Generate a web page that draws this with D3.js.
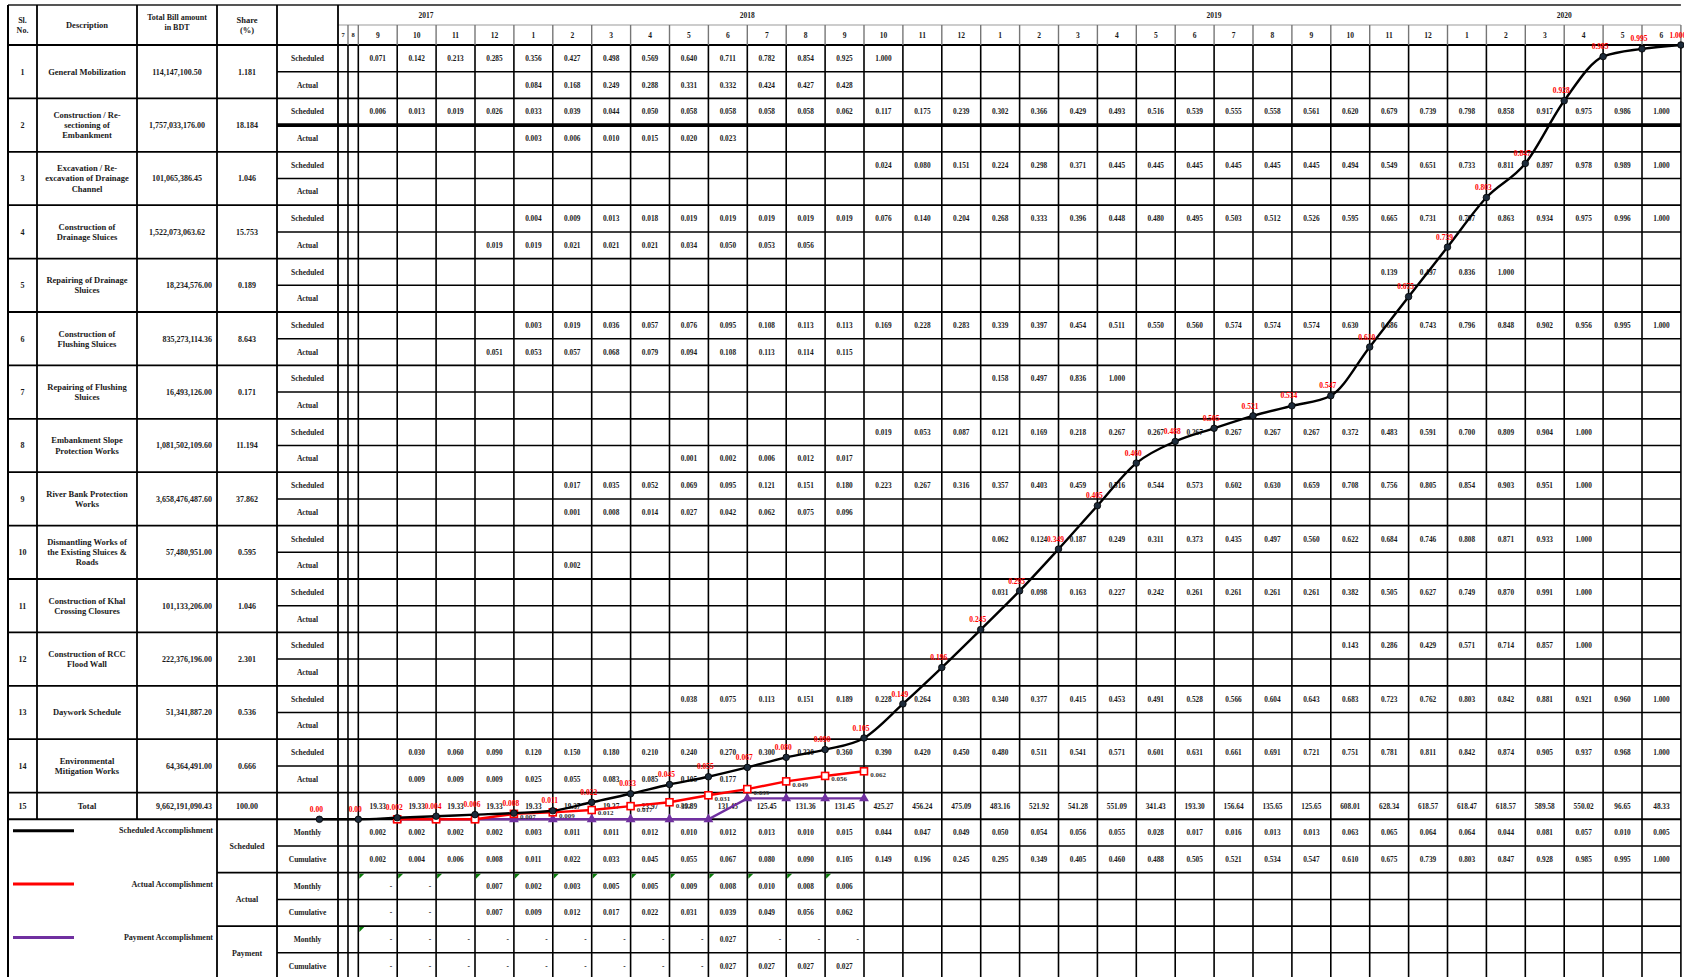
<!DOCTYPE html>
<html><head><meta charset="utf-8">
<script src="https://cdn.jsdelivr.net/npm/d3@7"></script>
<style>
body{margin:0;background:#fff;overflow:hidden}
svg{display:block}
text{font-family:"Liberation Serif","Times New Roman",serif;font-weight:bold}
</style>
</head><body>
<svg id="c" width="1684" height="977"></svg>
<script>
// ---------------- DATA ----------------
const years = ["2017","2018","2019","2020"];
const yearSpans = [6,12,12,6];           // month columns per year (2017 includes the narrow 7 and 8)
const earlyMonths = ["7","8"];
const months = ["9","10","11","12","1","2","3","4","5","6","7","8","9","10","11","12",
                "1","2","3","4","5","6","7","8","9","10","11","12","1","2","3","4","5","6"];

const itemNo = ["1","2","3","4","5","6","7","8","9","10","11","12","13","14"];
const itemDesc = [
  ["General Mobilization"],
  ["Construction / Re-","sectioning of","Embankment"],
  ["Excavation / Re-","excavation of Drainage","Channel"],
  ["Construction of","Drainage Sluices"],
  ["Repairing of Drainage","Sluices"],
  ["Construction of","Flushing Sluices"],
  ["Repairing of Flushing","Sluices"],
  ["Embankment Slope","Protection Works"],
  ["River Bank Protection","Works"],
  ["Dismantling Works of","the Existing Sluices &","Roads"],
  ["Construction of Khal","Crossing Closures"],
  ["Construction of RCC","Flood Wall"],
  ["Daywork Schedule"],
  ["Environmental","Mitigation Works"]
];
const itemAmount = ["114,147,100.50","1,757,033,176.00","101,065,386.45","1,522,073,063.62","18,234,576.00",
  "835,273,114.36","16,493,126.00","1,081,502,109.60","3,658,476,487.60","57,480,951.00",
  "101,133,206.00","222,376,196.00","51,341,887.20","64,364,491.00"];
const itemShare = ["1.181","18.184","1.046","15.753","0.189","8.643","0.171","11.194","37.862","0.595","1.046","2.301","0.536","0.666"];

const schedStart = [0,0,13,4,26,4,16,13,5,16,16,25,8,1];
const schedValues = [
  [0.071,0.142,0.213,0.285,0.356,0.427,0.498,0.569,0.640,0.711,0.782,0.854,0.925,1.000],
  [0.006,0.013,0.019,0.026,0.033,0.039,0.044,0.050,0.058,0.058,0.058,0.058,0.062,0.117,0.175,0.239,0.302,0.366,0.429,0.493,0.516,0.539,0.555,0.558,0.561,0.620,0.679,0.739,0.798,0.858,0.917,0.975,0.986,1.000],
  [0.024,0.080,0.151,0.224,0.298,0.371,0.445,0.445,0.445,0.445,0.445,0.445,0.494,0.549,0.651,0.733,0.811,0.897,0.978,0.989,1.000],
  [0.004,0.009,0.013,0.018,0.019,0.019,0.019,0.019,0.019,0.076,0.140,0.204,0.268,0.333,0.396,0.448,0.480,0.495,0.503,0.512,0.526,0.595,0.665,0.731,0.797,0.863,0.934,0.975,0.996,1.000],
  [0.139,0.497,0.836,1.000],
  [0.003,0.019,0.036,0.057,0.076,0.095,0.108,0.113,0.113,0.169,0.228,0.283,0.339,0.397,0.454,0.511,0.550,0.560,0.574,0.574,0.574,0.630,0.686,0.743,0.796,0.848,0.902,0.956,0.995,1.000],
  [0.158,0.497,0.836,1.000],
  [0.019,0.053,0.087,0.121,0.169,0.218,0.267,0.267,0.267,0.267,0.267,0.267,0.372,0.483,0.591,0.700,0.809,0.904,1.000],
  [0.017,0.035,0.052,0.069,0.095,0.121,0.151,0.180,0.223,0.267,0.316,0.357,0.403,0.459,0.516,0.544,0.573,0.602,0.630,0.659,0.708,0.756,0.805,0.854,0.903,0.951,1.000],
  [0.062,0.124,0.187,0.249,0.311,0.373,0.435,0.497,0.560,0.622,0.684,0.746,0.808,0.871,0.933,1.000],
  [0.031,0.098,0.163,0.227,0.242,0.261,0.261,0.261,0.261,0.382,0.505,0.627,0.749,0.870,0.991,1.000],
  [0.143,0.286,0.429,0.571,0.714,0.857,1.000],
  [0.038,0.075,0.113,0.151,0.189,0.228,0.264,0.303,0.340,0.377,0.415,0.453,0.491,0.528,0.566,0.604,0.643,0.683,0.723,0.762,0.803,0.842,0.881,0.921,0.960,1.000],
  [0.030,0.060,0.090,0.120,0.150,0.180,0.210,0.240,0.270,0.300,0.330,0.360,0.390,0.420,0.450,0.480,0.511,0.541,0.571,0.601,0.631,0.661,0.691,0.721,0.751,0.781,0.811,0.842,0.874,0.905,0.937,0.968,1.000]
];
const actStart = [4,4,0,3,0,3,0,8,5,5,0,0,0,1];
const actValues = [
  [0.084,0.168,0.249,0.288,0.331,0.332,0.424,0.427,0.428],
  [0.003,0.006,0.010,0.015,0.020,0.023],
  [],
  [0.019,0.019,0.021,0.021,0.021,0.034,0.050,0.053,0.056],
  [],
  [0.051,0.053,0.057,0.068,0.079,0.094,0.108,0.113,0.114,0.115],
  [],
  [0.001,0.002,0.006,0.012,0.017],
  [0.001,0.008,0.014,0.027,0.042,0.062,0.075,0.096],
  [0.002],
  [],[],[],
  [0.009,0.009,0.009,0.025,0.055,0.083,0.085,0.105,0.177]
];

const totalAmounts = ["19.33","19.33","19.33","19.33","19.33","19.37","19.37","23.97","39.89","131.45","125.45","131.36","131.45",
  "425.27","456.24","475.09","483.16","521.92","541.28","551.09","341.43","193.30","156.64","135.65","125.65",
  "608.01","628.34","618.57","618.47","618.57","589.58","550.02","96.65","48.33"];

const schedMonthly = [0.002,0.002,0.002,0.002,0.003,0.011,0.011,0.012,0.010,0.012,0.013,0.010,0.015,0.044,0.047,0.049,0.050,
  0.054,0.056,0.055,0.028,0.017,0.016,0.013,0.013,0.063,0.065,0.064,0.064,0.044,0.081,0.057,0.010,0.005];
const schedCum = [0.002,0.004,0.006,0.008,0.011,0.022,0.033,0.045,0.055,0.067,0.080,0.090,0.105,0.149,0.196,0.245,0.295,
  0.349,0.405,0.460,0.488,0.505,0.521,0.534,0.547,0.610,0.675,0.739,0.803,0.847,0.928,0.985,0.995,1.000];
const schedLead = [0, 0];   // Jul-2017 and Aug-2017 points of the S-curve

const actualMonthlyText = ["-","-","","0.007","0.002","0.003","0.005","0.005","0.009","0.008","0.010","0.008","0.006"];
const actualCumText     = ["-","-","","0.007","0.009","0.012","0.017","0.022","0.031","0.039","0.049","0.056","0.062"];
const paymentMonthlyText= ["-","-","-","-","-","-","-","-","-","0.027","-","-","-"];
const paymentCumText    = ["-","-","-","-","-","-","-","-","-","0.027","0.027","0.027","0.027"];

const actualCurve  = [0,0,0,0.007,0.009,0.012,0.017,0.022,0.031,0.039,0.049,0.056,0.062];
const paymentCurve = [0,0,0,0,0,0,0,0,0,0.027,0.027,0.027,0.027];

const legendLabels = ["Scheduled Accomplishment","Actual Accomplishment","Payment Accomplishment"];
const groupLabels = ["Scheduled","Actual","Payment"];

// ---------------- LAYOUT ----------------
const W = 1684, H = 977;
const e = [8, 37, 137, 217, 277, 338, 348, 358.3];
const mw = 38.9;
const nM = months.length;
const xRight = e[7] + nM*mw;
const yTop = 5, yYear = 25, yHead = 45, rh = 26.7;
const yTot = yHead + 28*rh, yB = yHead + 29*rh;

const svg = d3.select("#c");
svg.append("rect").attr("width",W).attr("height",H).attr("fill","#fff");

const xM = d3.scaleBand().domain(d3.range(nM)).range([e[7], xRight]).padding(0);
const xC = d3.scaleLinear().domain([-1, 33]).range([e[7], xRight]);
const yC = d3.scaleLinear().domain([0, 1]).range([yB, yHead]);
const f3 = d3.format(".3f");

const gText = svg.append("g");
const gGrid = svg.append("g");
const gCurve = svg.append("g");

function txt(x, y, s, size, anchor, fill) {
  return gText.append("text").attr("x",x).attr("y",y).attr("dy","0.35em")
    .attr("font-size",size).attr("text-anchor",anchor||"middle").attr("fill",fill||"#1a1a1a").text(s);
}
function multi(x, yc, lines, size, anchor) {
  const lh = size*1.2, y0 = yc - (lines.length-1)*lh/2;
  lines.forEach((l,i)=>txt(x, y0+i*lh, l, size, anchor));
}
function hl(x1,x2,y,w,c){ gGrid.append("line").attr("x1",x1).attr("x2",x2).attr("y1",y).attr("y2",y).attr("stroke",c||"#000").attr("stroke-width",w||1.6); }
function vl(x,y1,y2,w,c){ gGrid.append("line").attr("x1",x).attr("x2",x).attr("y1",y1).attr("y2",y2).attr("stroke",c||"#000").attr("stroke-width",w||1.6); }

// ---------------- HEADER ----------------
multi((e[0]+e[1])/2, 25, ["Sl.","No."], 8);
txt((e[1]+e[2])/2, 25, "Description", 8.5);
multi((e[2]+e[3])/2, 22, ["Total Bill amount","in BDT"], 8);
multi((e[3]+e[4])/2, 25, ["Share","(%)"], 8.5);

let acc = 0;
const allCols = earlyMonths.length + nM;
function colLeft(c){ return c < 2 ? e[5 + c] : xM(c-2); }
function colRight(c){ return c < 2 ? e[6 + c] : xM(c-2) + mw; }
years.forEach((y,i)=>{
  const a = colLeft(acc), b = colRight(Math.min(acc + yearSpans[i], allCols) - 1);
  txt((a+b)/2, 15, y, 7.5);
  acc += yearSpans[i];
});
earlyMonths.forEach((m,i)=> txt((e[5+i]+e[6+i])/2, 35, m, 6.5));
months.forEach((m,i)=> txt(xM(i)+mw/2, 35, m, 7.5));

// ---------------- ITEM ROWS ----------------
itemNo.forEach((n,r)=>{
  const y0 = yHead + 2*r*rh, yc = y0 + rh;
  txt((e[0]+e[1])/2, yc, n, 8);
  multi((e[1]+e[2])/2, yc, itemDesc[r], 8.5);
  if (r < 4) txt((e[2]+e[3])/2, yc, itemAmount[r], 8);
  else txt(e[3]-5, yc, itemAmount[r], 8, "end");
  txt((e[3]+e[4])/2, yc, itemShare[r], 8);
  txt((e[4]+e[5])/2, y0 + rh/2, "Scheduled", 7.5);
  txt((e[4]+e[5])/2, y0 + rh*1.5, "Actual", 7.5);
  schedValues[r].forEach((v,j)=> txt(xM(schedStart[r]+j)+mw/2, y0+rh/2, f3(v), 7.3));
  actValues[r].forEach((v,j)=> txt(xM(actStart[r]+j)+mw/2, y0+rh*1.5, f3(v), 7.3));
});

txt((e[0]+e[1])/2, yTot+rh/2, "15", 8);
txt((e[1]+e[2])/2, yTot+rh/2, "Total", 8.5);
txt(e[3]-5, yTot+rh/2, "9,662,191,090.43", 8, "end");
txt((e[3]+e[4])/2, yTot+rh/2, "100.00", 8);
totalAmounts.forEach((s,i)=> txt(xM(i)+mw/2, yTot+rh/2, s, 7.3));

// ---------------- BOTTOM SECTION ----------------
groupLabels.forEach((g,i)=>{
  txt((e[3]+e[4])/2, yB + (2*i+1)*rh, g, 8);
  txt((e[4]+e[5])/2, yB + (2*i+0.5)*rh, "Monthly", 7.5);
  txt((e[4]+e[5])/2, yB + (2*i+1.5)*rh, "Cumulative", 7.5);
});
schedMonthly.forEach((v,i)=> txt(xM(i)+mw/2, yB+rh*0.5, f3(v), 7.3));
schedCum.forEach((v,i)=> txt(xM(i)+mw/2, yB+rh*1.5, f3(v), 7.3));
function dashOrVal(arr, row){
  arr.forEach((s,i)=>{
    if (s === "") return;
    if (s === "-") txt(xM(i)+mw-5, yB+rh*(row+0.5), s, 7.3, "end");
    else txt(xM(i)+mw/2, yB+rh*(row+0.5), s, 7.3);
  });
}
dashOrVal(actualMonthlyText, 2);
dashOrVal(actualCumText, 3);
dashOrVal(paymentMonthlyText, 4);
dashOrVal(paymentCumText, 5);

actualMonthlyText.forEach((s,i)=>{
  const x = xM(i)+1, y = yB+2*rh+1;
  gText.append("path").attr("d",`M${x},${y}L${x+5},${y}L${x},${y+5}Z`).attr("fill","#0b7d0b");
});
{ const x = xM(0)+1, y = yB+4*rh+1;
  gText.append("path").attr("d",`M${x},${y}L${x+5},${y}L${x},${y+5}Z`).attr("fill","#0b7d0b"); }

const legendColors = ["#000000","#ff0000","#7030a0"];
legendLabels.forEach((l,i)=>{
  const y = yB + (2*i+0.5)*rh - 2;
  gText.append("line").attr("x1",13).attr("x2",74).attr("y1",y).attr("y2",y)
    .attr("stroke",legendColors[i]).attr("stroke-width",3);
  txt(e[3]-4, y, l, 8, "end");
});

// ---------------- GRID ----------------
hl(e[0], xRight, yTop, 2, "#555");
hl(e[5], xRight, yYear, 1.2, "#999");
hl(e[0], xRight, yHead, 2);
for (let r=1; r<14; r++) hl(e[0], xRight, yHead+2*r*rh, 1.8);
for (let r=0; r<14; r++) hl(e[4], xRight, yHead+(2*r+1)*rh, r===1 ? 3.6 : 1.5);
hl(e[0], xRight, yTot, 1.8);
hl(e[0], xRight, yB, 2);
[1,3,5].forEach(j=> hl(e[4], xRight, yB+j*rh, 1.5));
[2,4].forEach(j=> hl(e[3], xRight, yB+j*rh, 1.8));

vl(e[0], yTop, H, 2);
vl(e[1], yTop, yB, 1.8);
vl(e[2], yTop, yB, 1.8);
vl(e[3], yTop, H, 1.8);
vl(e[4], yTop, H, 1.8);
vl(e[5], yTop, H, 1.8);
const monthEdges = [e[6], e[7]].concat(d3.range(1, nM+1).map(i=> e[7]+i*mw));
monthEdges.forEach(x=>{
  vl(x, yYear, yHead, 1.4, "#777");
  vl(x, yHead, H, 1.6);
});

// ---------------- S-CURVES ----------------
const schedPts = schedLead.map((v,i)=>({k:i-schedLead.length, v}))
  .concat(schedCum.map((v,i)=>({k:i, v})));
const actPts = actualCurve.map((v,i)=>({k:i, v}));
const payPts = paymentCurve.map((v,i)=>({k:i, v}));

const lineSmooth = d3.line().x(d=>xC(d.k)).y(d=>yC(d.v)).curve(d3.curveMonotoneX);
const lineStraight = d3.line().x(d=>xC(d.k)).y(d=>yC(d.v));

gCurve.append("path").attr("d", lineStraight(payPts)).attr("fill","none")
  .attr("stroke","#7030a0").attr("stroke-width",2.4);
gCurve.selectAll(".pm").data(payPts).join("path")
  .attr("transform",d=>`translate(${xC(d.k)},${yC(d.v)})`)
  .attr("d", d3.symbol(d3.symbolTriangle, 42)).attr("fill","#7030a0");

gCurve.append("path").attr("d", lineStraight(actPts)).attr("fill","none")
  .attr("stroke","#ff0000").attr("stroke-width",2.4);
gCurve.selectAll(".am").data(actPts).join("rect")
  .attr("x",d=>xC(d.k)-3.5).attr("y",d=>yC(d.v)-3.5).attr("width",7).attr("height",7)
  .attr("fill","#fff").attr("stroke","#ff0000").attr("stroke-width",1.6);
gCurve.selectAll(".al").data(actPts.filter(d=>d.v>0)).join("text")
  .attr("x",d=>xC(d.k)+14).attr("y",d=>yC(d.v)+3).attr("dy","0.35em")
  .attr("text-anchor","middle").attr("font-size",7).attr("fill","#333")
  .text(d=>f3(d.v));

gCurve.append("path").attr("d", lineSmooth(schedPts)).attr("fill","none")
  .attr("stroke","#000").attr("stroke-width",2.4);
gCurve.selectAll(".sm").data(schedPts).join("circle")
  .attr("cx",d=>xC(d.k)).attr("cy",d=>yC(d.v)).attr("r",3.3)
  .attr("fill","#1d2b3a").attr("stroke","#000").attr("stroke-width",0.8);
gCurve.selectAll(".sl").data(schedPts).join("text")
  .attr("x",d=>xC(d.k)-3).attr("y",d=>yC(d.v)-10).attr("dy","0.35em")
  .attr("text-anchor","middle").attr("font-size",7.5).attr("fill","#ff0000")
  .text(d=> d.v === 0 ? "0.00" : f3(d.v));
</script>
</body></html>
